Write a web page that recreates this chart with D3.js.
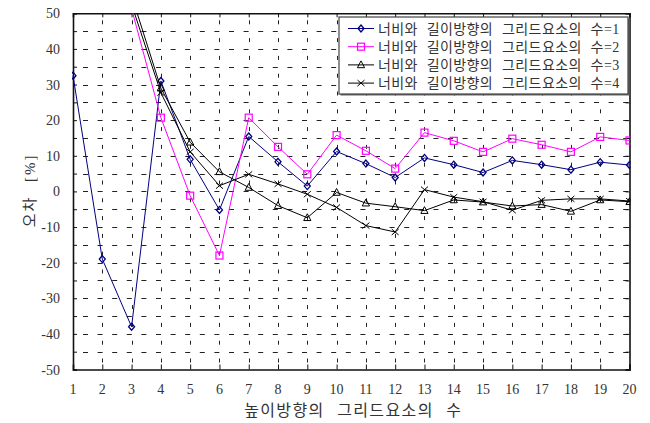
<!DOCTYPE html>
<html>
<head>
<meta charset="utf-8">
<script src="https://cdn.jsdelivr.net/npm/d3@7"></script>
<style>
  body { margin: 0; background: #fff; }
  svg { display: block; font-family: "Liberation Serif", "Noto Sans CJK KR", serif; }
</style>
</head>
<body>
<div id="chart"></div>
<script>
const categories = [1, 2, 3, 4, 5, 6, 7, 8, 9, 10, 11, 12, 13, 14, 15, 16, 17, 18, 19, 20];
const seriesNames = [
  "너비와 길이방향의 그리드요소의 수=1",
  "너비와 길이방향의 그리드요소의 수=2",
  "너비와 길이방향의 그리드요소의 수=3",
  "너비와 길이방향의 그리드요소의 수=4"
];
const s1 = [32.5, -19, -38, 31, 9, -5.2, 15.4, 8.3, 1.5, 11.2, 7.8, 3.9, 9.4, 7.5, 5.3, 8.7, 7.5, 6.1, 8.2, 7.4];
const s2 = [null, null, 51.3, 20.7, -1.2, -18, 20.7, 12.5, 4.8, 15.8, 11.4, 6.4, 16.5, 14.2, 11.1, 14.8, 13.1, 11.1, 15.3, 14.3];
const s3 = [null, null, 55, 29, 13.8, 5.5, 1.1, -4, -7.4, -0.3, -3.3, -4.3, -5.4, -2.4, -3, -4.1, -3.7, -5.6, -2.4, -2.9];
const s4 = [null, null, 52.5, 27.7, 11.1, 1.6, 4.8, 2.1, -0.8, -4.5, -9.6, -11.4, 0.5, -1.6, -2.9, -5.3, -2.5, -2.1, -2.1, -2.7];
const yTicks = [50, 40, 30, 20, 10, 0, -10, -20, -30, -40, -50];
const yMinor = [45, 35, 25, 15, 5, -5, -15, -25, -35, -45];
const xTitle = "높이방향의 그리드요소의 수";
const yTitle = "오차 [%]";

const width = 650, height = 423;
const margin = { top: 13.3, right: 20.5, bottom: 53.5, left: 73 };

const svg = d3.select("#chart").append("svg")
  .attr("width", width).attr("height", height);

const x = d3.scaleLinear().domain([1, 20]).range([margin.left, width - margin.right]);
const y = d3.scaleLinear().domain([-50, 50]).range([height - margin.bottom, margin.top]);

svg.append("defs").append("clipPath").attr("id", "clip")
  .append("rect")
  .attr("x", x(1) - 1).attr("y", y(50))
  .attr("width", x(20) - x(1) + 2).attr("height", y(-50) - y(50));

// grid
const grid = svg.append("g").attr("stroke", "#222").attr("stroke-width", 1);
grid.selectAll("line.h")
  .data(yTicks.concat(yMinor).filter(d => d > -50 && d < 50))
  .join("line")
  .attr("x1", x(1)).attr("x2", x(20))
  .attr("y1", d => Math.round(y(d)) + 0.5).attr("y2", d => Math.round(y(d)) + 0.5)
  .attr("stroke-dasharray", "5,9.6")
  .attr("stroke-dashoffset", -10);
grid.selectAll("line.v")
  .data(categories.filter(d => d > 1 && d < 20))
  .join("line")
  .attr("x1", d => Math.round(x(d)) + 0.5).attr("x2", d => Math.round(x(d)) + 0.5)
  .attr("y1", y(50)).attr("y2", y(-50))
  .attr("stroke-dasharray", "4,13.8")
  .attr("stroke-dashoffset", -7);

// axes (inward ticks on all sides)
const yAxis = svg.append("g").attr("transform", `translate(${x(1)},0)`)
  .call(d3.axisRight(y).tickValues(yTicks.concat(yMinor)).tickSize(4).tickFormat(""));
const yAxisR = svg.append("g").attr("transform", `translate(${x(20)},0)`)
  .call(d3.axisLeft(y).tickValues(yTicks.concat(yMinor)).tickSize(4).tickFormat(""));
const xAxis = svg.append("g").attr("transform", `translate(0,${y(-50)})`)
  .call(d3.axisTop(x).tickValues(categories).tickSize(5).tickFormat(""));
const xAxisT = svg.append("g").attr("transform", `translate(0,${y(50)})`)
  .call(d3.axisBottom(x).tickValues(categories).tickSize(4).tickFormat(""));
[yAxis, yAxisR, xAxis, xAxisT].forEach(g => {
  g.selectAll("path").attr("stroke", "#111").attr("stroke-width", 1.6);
  g.selectAll("line").attr("stroke", "#111");
});

// tick labels
svg.append("g").selectAll("text")
  .data(yTicks).join("text")
  .attr("x", x(1) - 13).attr("y", d => y(d) + 5)
  .attr("text-anchor", "end")
  .attr("font-size", 14).attr("fill", "#333")
  .text(d => d);
svg.append("g").selectAll("text")
  .data(categories).join("text")
  .attr("x", d => x(d)).attr("y", y(-50) + 24)
  .attr("text-anchor", "middle")
  .attr("font-size", 14).attr("fill", "#333")
  .text(d => d);

svg.append("text")
  .attr("x", (x(1) + x(20)) / 2 + 2).attr("y", 416)
  .attr("text-anchor", "middle").attr("font-size", 16).attr("fill", "#333")
  .attr("letter-spacing", 1.4).attr("word-spacing", 7)
  .text(xTitle);
svg.append("text")
  .attr("transform", `translate(35,${y(0) - 1}) rotate(-90)`)
  .attr("text-anchor", "middle").attr("font-size", 15).attr("fill", "#333")
  .attr("letter-spacing", 2).attr("word-spacing", 8)
  .text(yTitle);

// series
const series = [
  { name: seriesNames[0], values: s1, color: "#000080", marker: "diamond" },
  { name: seriesNames[1], values: s2, color: "#ff00ff", marker: "square" },
  { name: seriesNames[2], values: s3, color: "#000", marker: "triangle" },
  { name: seriesNames[3], values: s4, color: "#000", marker: "cross" }
];

function marker(g, type, color) {
  if (type === "diamond") {
    g.append("path").attr("d", "M0,-3.5L3,0L0,3.5L-3,0Z")
      .attr("fill", "none").attr("stroke", color).attr("stroke-width", 1.3);
  } else if (type === "square") {
    g.append("rect").attr("x", -3.5).attr("y", -3.5).attr("width", 7).attr("height", 7)
      .attr("fill", "none").attr("stroke", color).attr("stroke-width", 1.2);
  } else if (type === "triangle") {
    g.append("path").attr("d", "M0,-4L3.6,2.8L-3.6,2.8Z")
      .attr("fill", "none").attr("stroke", color).attr("stroke-width", 1);
  } else {
    g.append("path").attr("d", "M-3.5,-3L3.5,3M-3.5,3L3.5,-3")
      .attr("fill", "none").attr("stroke", color).attr("stroke-width", 1);
  }
}

const plot = svg.append("g").attr("clip-path", "url(#clip)");
const line = d3.line()
  .defined(d => d.v != null)
  .x(d => x(d.c)).y(d => y(d.v));

series.forEach(s => {
  const pts = categories.map((c, i) => ({ c: c, v: s.values[i] }));
  plot.append("path")
    .datum(pts)
    .attr("d", line)
    .attr("fill", "none")
    .attr("stroke", s.color)
    .attr("stroke-width", 1);
  pts.filter(p => p.v != null && p.v <= 50).forEach(p => {
    const g = plot.append("g").attr("transform", `translate(${x(p.c)},${y(p.v)})`);
    marker(g, s.marker, s.color);
  });
});

// legend
const lg = svg.append("g").attr("transform", "translate(339,17)");
lg.append("rect").attr("x", 1.5).attr("y", 1.5).attr("width", 289).attr("height", 77)
  .attr("fill", "#666");
lg.append("rect").attr("width", 289).attr("height", 77)
  .attr("fill", "#fff").attr("stroke", "#444").attr("stroke-width", 1.2);
series.forEach((s, i) => {
  const ry = 11.5 + i * 18.2;
  lg.append("line").attr("x1", 9).attr("x2", 35).attr("y1", ry).attr("y2", ry)
    .attr("stroke", s.color).attr("stroke-width", 1);
  marker(lg.append("g").attr("transform", `translate(22,${ry})`), s.marker, s.color);
  lg.append("text").attr("x", 39).attr("y", ry + 5)
    .attr("font-size", 14).attr("fill", "#333")
    .attr("letter-spacing", 0.4).attr("word-spacing", 5)
    .text(s.name);
});
</script>
</body>
</html>
